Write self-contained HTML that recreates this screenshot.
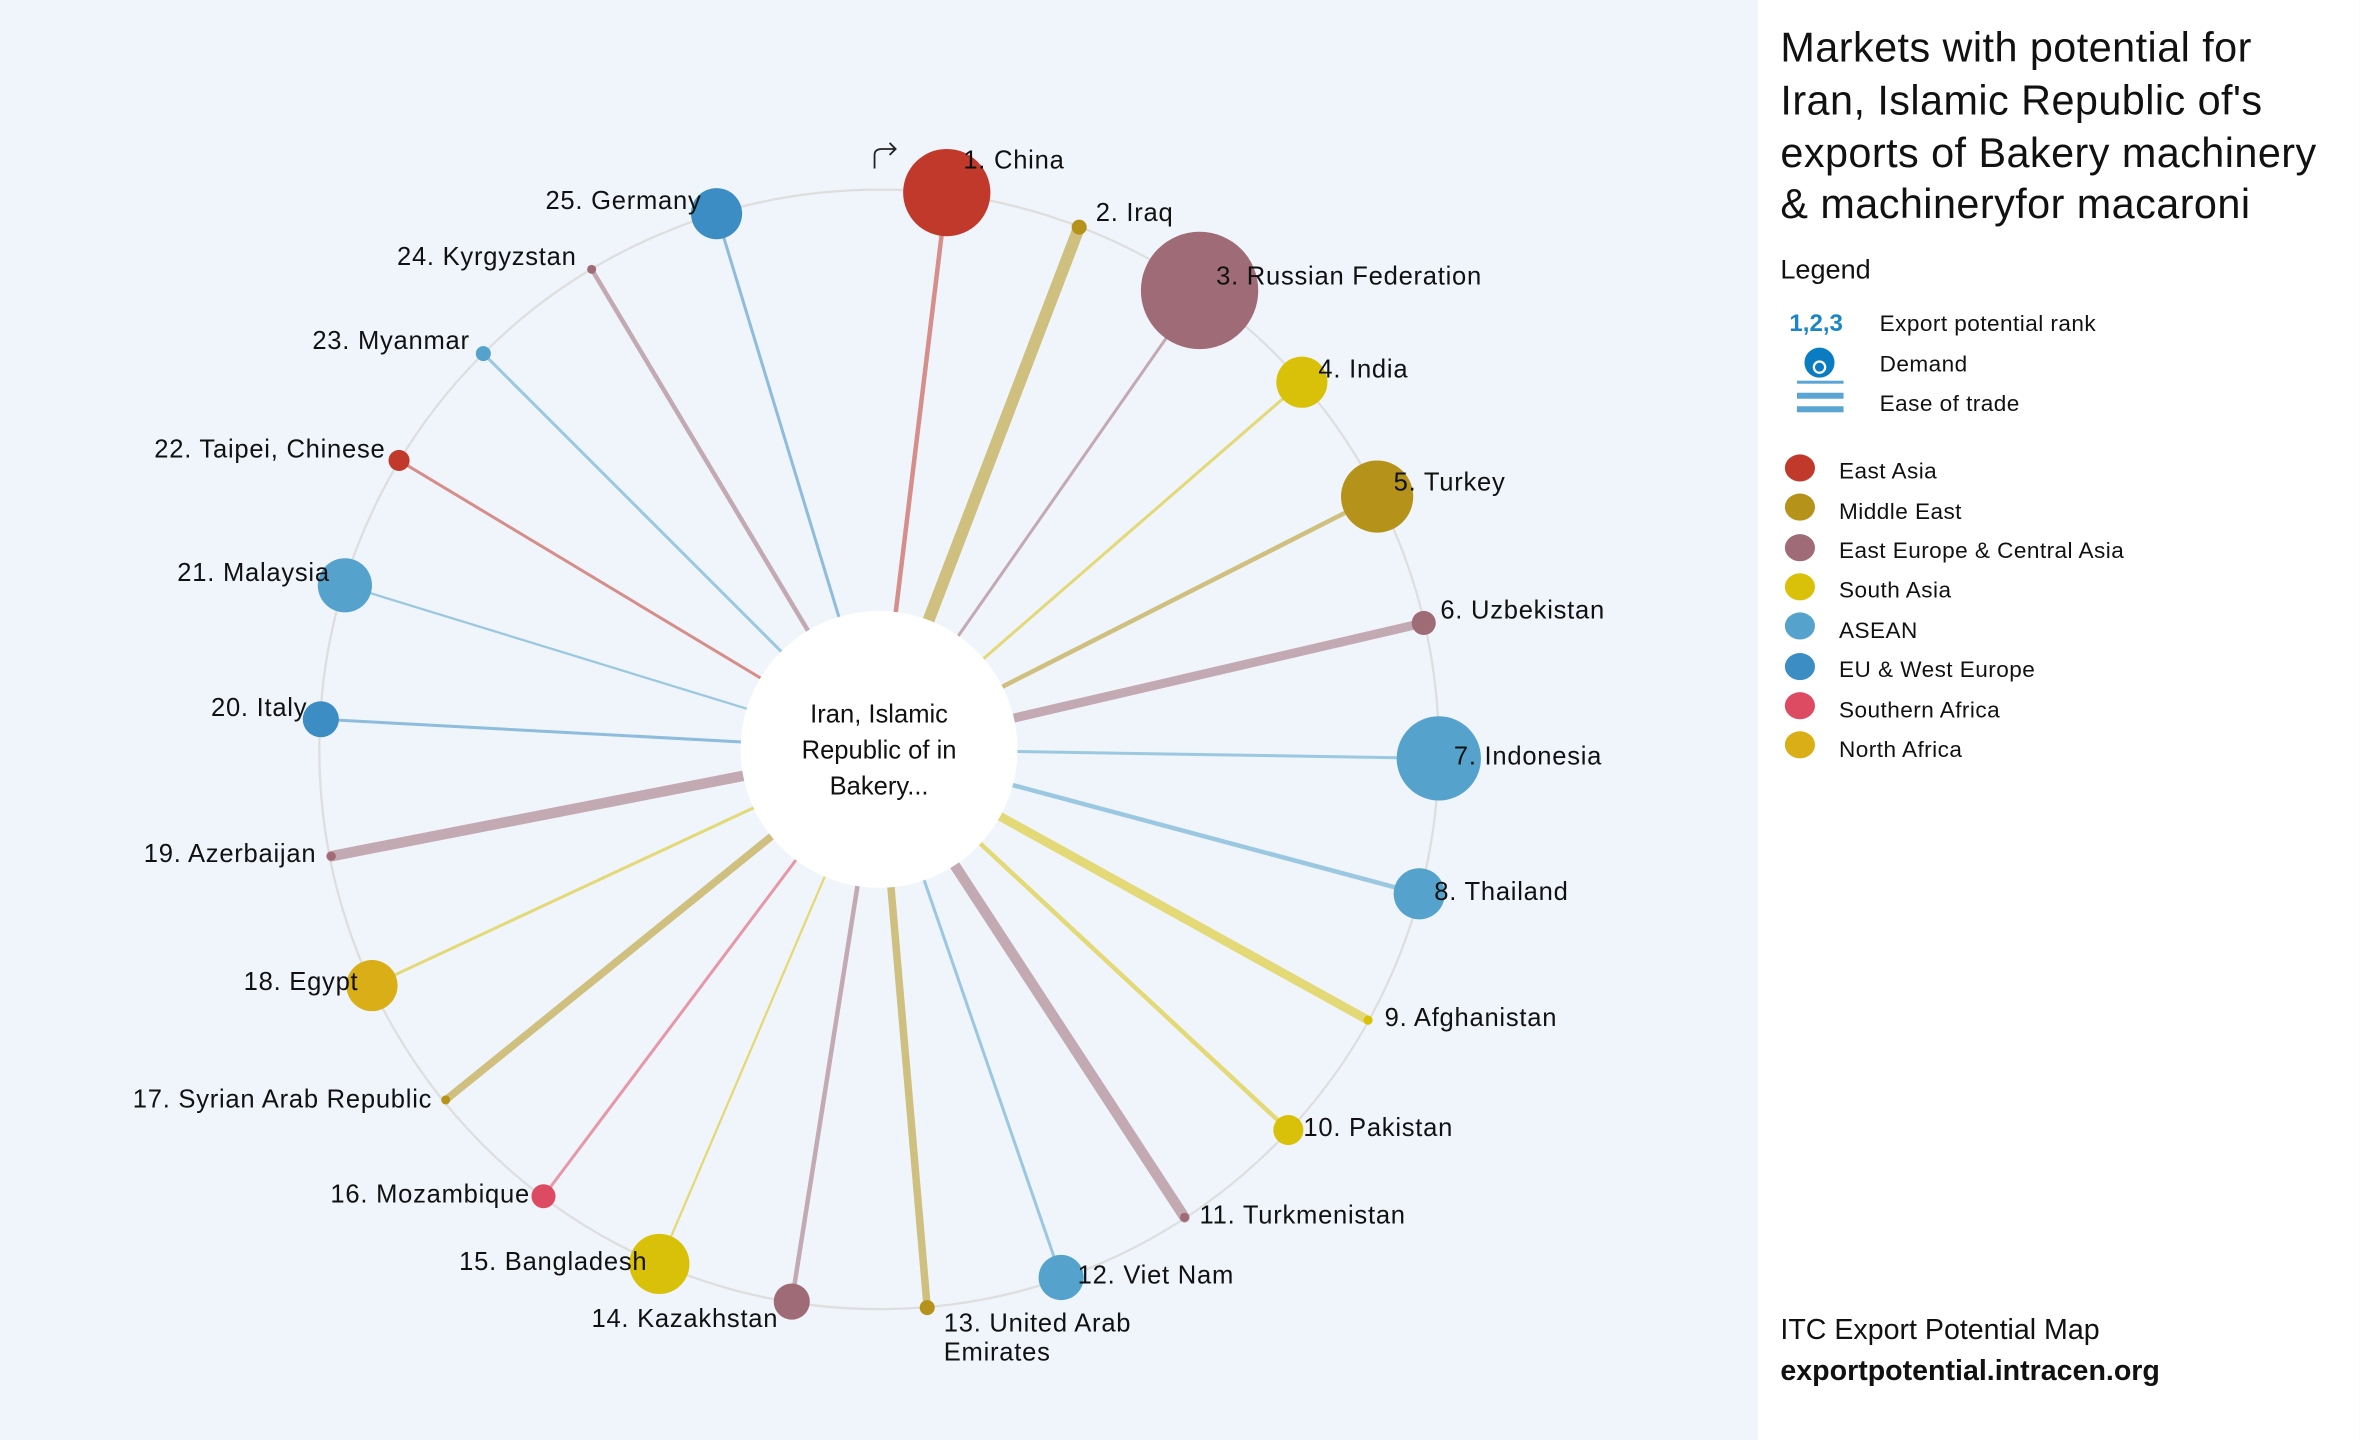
<!DOCTYPE html>
<html><head><meta charset="utf-8"><style>
html,body{margin:0;padding:0;width:2360px;height:1440px;overflow:hidden;background:#f0f5fb}
svg{display:block}
text{font-family:"Liberation Sans",sans-serif;fill:#111}
</style></head><body>
<svg width="2360" height="1440" viewBox="0 0 1568 957" xmlns="http://www.w3.org/2000/svg">
<rect x="0" y="0" width="1568" height="957" fill="#f0f5fb"/>
<rect x="1168" y="0" width="400" height="957" fill="#ffffff"/>
<circle cx="584" cy="498" r="372" fill="none" stroke="#dedede" stroke-width="1.5"/>
<g stroke-opacity="0.55" stroke-linecap="round">
<line x1="584" y1="498" x2="629" y2="128" stroke="#c0392b" stroke-width="3"/>
<line x1="584" y1="498" x2="717" y2="151" stroke="#b5931a" stroke-width="8"/>
<line x1="584" y1="498" x2="797" y2="193" stroke="#9e6b77" stroke-width="2"/>
<line x1="584" y1="498" x2="865" y2="254" stroke="#d9c10a" stroke-width="2"/>
<line x1="584" y1="498" x2="915" y2="330" stroke="#b5931a" stroke-width="3"/>
<line x1="584" y1="498" x2="946" y2="414" stroke="#9e6b77" stroke-width="6"/>
<line x1="584" y1="498" x2="956" y2="504" stroke="#55a3cc" stroke-width="2"/>
<line x1="584" y1="498" x2="943" y2="594" stroke="#55a3cc" stroke-width="3"/>
<line x1="584" y1="498" x2="909" y2="678" stroke="#d9c10a" stroke-width="6"/>
<line x1="584" y1="498" x2="856" y2="751" stroke="#d9c10a" stroke-width="3"/>
<line x1="584" y1="498" x2="787" y2="809" stroke="#9e6b77" stroke-width="7"/>
<line x1="584" y1="498" x2="705" y2="849" stroke="#55a3cc" stroke-width="2"/>
<line x1="584" y1="498" x2="616" y2="869" stroke="#b5931a" stroke-width="5"/>
<line x1="584" y1="498" x2="526" y2="865" stroke="#9e6b77" stroke-width="3"/>
<line x1="584" y1="498" x2="438" y2="840" stroke="#d9c10a" stroke-width="1.5"/>
<line x1="584" y1="498" x2="361" y2="795" stroke="#dd4b63" stroke-width="2"/>
<line x1="584" y1="498" x2="296" y2="731" stroke="#b5931a" stroke-width="5"/>
<line x1="584" y1="498" x2="247" y2="655" stroke="#d9c10a" stroke-width="2"/>
<line x1="584" y1="498" x2="220" y2="569" stroke="#9e6b77" stroke-width="7"/>
<line x1="584" y1="498" x2="213" y2="478" stroke="#3c8dc4" stroke-width="2"/>
<line x1="584" y1="498" x2="229" y2="389" stroke="#55a3cc" stroke-width="1.5"/>
<line x1="584" y1="498" x2="265" y2="306" stroke="#c0392b" stroke-width="2"/>
<line x1="584" y1="498" x2="321" y2="235" stroke="#55a3cc" stroke-width="2"/>
<line x1="584" y1="498" x2="393" y2="179" stroke="#9e6b77" stroke-width="3"/>
<line x1="584" y1="498" x2="476" y2="142" stroke="#3c8dc4" stroke-width="2"/>
</g>
<circle cx="584" cy="498" r="92" fill="#ffffff"/>
<text x="584" y="480" font-size="17" text-anchor="middle">Iran, Islamic</text>
<text x="584" y="504" font-size="17" text-anchor="middle">Republic of in</text>
<text x="584" y="528" font-size="17" text-anchor="middle">Bakery...</text>
<g>
<circle cx="629" cy="128" r="29" fill="#c0392b"/>
<circle cx="717" cy="151" r="5" fill="#b5931a"/>
<circle cx="797" cy="193" r="39" fill="#9e6b77"/>
<circle cx="865" cy="254" r="17" fill="#d9c10a"/>
<circle cx="915" cy="330" r="24" fill="#b5931a"/>
<circle cx="946" cy="414" r="8" fill="#9e6b77"/>
<circle cx="956" cy="504" r="28" fill="#55a3cc"/>
<circle cx="943" cy="594" r="17" fill="#55a3cc"/>
<circle cx="909" cy="678" r="3" fill="#d9c10a"/>
<circle cx="856" cy="751" r="10" fill="#d9c10a"/>
<circle cx="787" cy="809" r="3" fill="#9e6b77"/>
<circle cx="705" cy="849" r="15" fill="#55a3cc"/>
<circle cx="616" cy="869" r="5" fill="#b5931a"/>
<circle cx="526" cy="865" r="12" fill="#9e6b77"/>
<circle cx="438" cy="840" r="20" fill="#d9c10a"/>
<circle cx="361" cy="795" r="8" fill="#dd4b63"/>
<circle cx="296" cy="731" r="3" fill="#b5931a"/>
<circle cx="247" cy="655" r="17" fill="#d9ae17"/>
<circle cx="220" cy="569" r="3" fill="#9e6b77"/>
<circle cx="213" cy="478" r="12" fill="#3c8dc4"/>
<circle cx="229" cy="389" r="18" fill="#55a3cc"/>
<circle cx="265" cy="306" r="7" fill="#c0392b"/>
<circle cx="321" cy="235" r="5" fill="#55a3cc"/>
<circle cx="393" cy="179" r="3" fill="#9e6b77"/>
<circle cx="476" cy="142" r="17" fill="#3c8dc4"/>
</g>
<path d="M581 112 V103 Q581 99 586 99 H595 M591 95 L595 99 L591 103" fill="none" stroke="#222" stroke-width="1.2"/>
<g font-size="17" letter-spacing="0.5">
<text x="640" y="112">1. China</text>
<text x="728" y="147">2. Iraq</text>
<text x="808" y="189">3. Russian Federation</text>
<text x="876" y="251">4. India</text>
<text x="926" y="326">5. Turkey</text>
<text x="957" y="411">6. Uzbekistan</text>
<text x="966" y="508">7. Indonesia</text>
<text x="953" y="598">8. Thailand</text>
<text x="920" y="682">9. Afghanistan</text>
<text x="866" y="755">10. Pakistan</text>
<text x="797" y="813">11. Turkmenistan</text>
<text x="716" y="853">12. Viet Nam</text>
<text x="627" y="885">13. United Arab</text>
<text x="627" y="904">Emirates</text>
<g text-anchor="end">
<text x="517" y="882">14. Kazakhstan</text>
<text x="430" y="844">15. Bangladesh</text>
<text x="352" y="799">16. Mozambique</text>
<text x="287" y="736">17. Syrian Arab Republic</text>
<text x="238" y="658">18. Egypt</text>
<text x="210" y="573">19. Azerbaijan</text>
<text x="204" y="476">20. Italy</text>
<text x="219" y="386">21. Malaysia</text>
<text x="256" y="304">22. Taipei, Chinese</text>
<text x="312" y="232">23. Myanmar</text>
<text x="383" y="176">24. Kyrgyzstan</text>
<text x="466" y="139">25. Germany</text>
</g>
</g>
<g font-size="27.5" letter-spacing="0.3">
<text x="1183" y="41">Markets with potential for</text>
<text x="1183" y="76">Iran, Islamic Republic of's</text>
<text x="1183" y="111">exports of Bakery machinery</text>
<text x="1183" y="145">&amp; machineryfor macaroni</text>
</g>
<text x="1183" y="185" font-size="18">Legend</text>
<text x="1189" y="220" font-size="16" font-weight="bold" style="fill:#1a86c8">1,2,3</text>
<g font-size="15" letter-spacing="0.3">
<text x="1249" y="220">Export potential rank</text>
<text x="1249" y="247">Demand</text>
<text x="1249" y="273">Ease of trade</text>
</g>
<circle cx="1209" cy="241" r="10" fill="#0a7cc2"/>
<circle cx="1209" cy="244" r="4.5" fill="#fff"/>
<circle cx="1209" cy="244" r="3" fill="#0a7cc2"/>
<rect x="1194" y="253" width="31" height="2" fill="#5aa5d4"/>
<rect x="1194" y="261" width="31" height="4" fill="#5aa5d4"/>
<rect x="1194" y="270" width="31" height="4" fill="#5aa5d4"/>
<g>
<ellipse cx="1196" cy="311" rx="10" ry="9" fill="#c0392b"/>
<ellipse cx="1196" cy="337" rx="10" ry="9" fill="#b5931a"/>
<ellipse cx="1196" cy="364" rx="10" ry="9" fill="#9e6b77"/>
<ellipse cx="1196" cy="390" rx="10" ry="9" fill="#d9c10a"/>
<ellipse cx="1196" cy="416" rx="10" ry="9" fill="#55a3cc"/>
<ellipse cx="1196" cy="443" rx="10" ry="9" fill="#3c8dc4"/>
<ellipse cx="1196" cy="469" rx="10" ry="9" fill="#dd4b63"/>
<ellipse cx="1196" cy="495" rx="10" ry="9" fill="#d9ae17"/>
</g>
<g font-size="15" letter-spacing="0.3">
<text x="1222" y="318">East Asia</text>
<text x="1222" y="345">Middle East</text>
<text x="1222" y="371">East Europe &amp; Central Asia</text>
<text x="1222" y="397">South Asia</text>
<text x="1222" y="424">ASEAN</text>
<text x="1222" y="450">EU &amp; West Europe</text>
<text x="1222" y="477">Southern Africa</text>
<text x="1222" y="503">North Africa</text>
</g>
<text x="1183" y="890" font-size="19">ITC Export Potential Map</text>
<text x="1183" y="917" font-size="19" font-weight="bold">exportpotential.intracen.org</text>
</svg>
</body></html>
